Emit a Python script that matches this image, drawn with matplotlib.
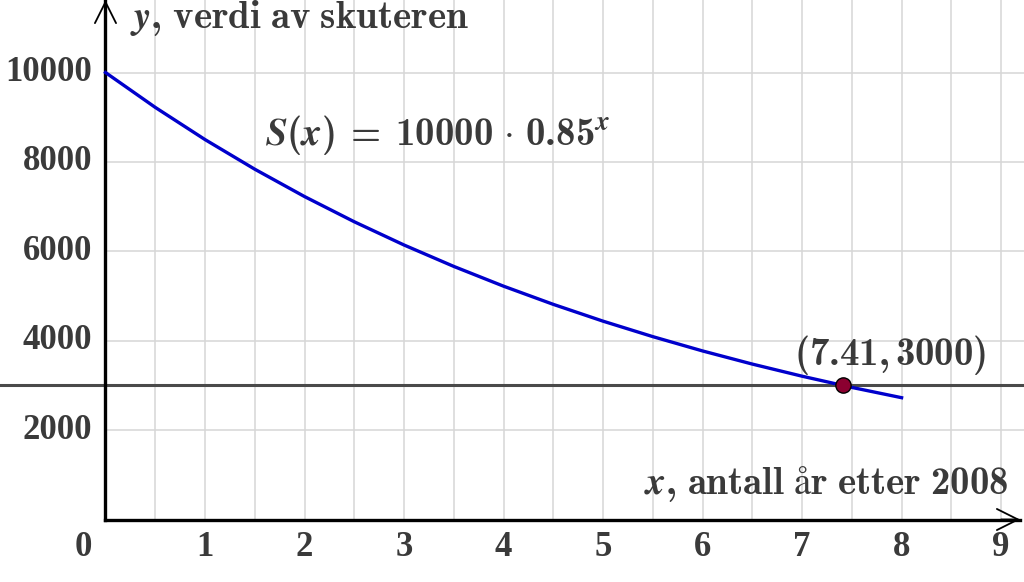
import matplotlib
matplotlib.use("Agg")
import matplotlib.pyplot as plt

# verdi av skuteren, lest av grafen (hver halve år)
years = [0, 0.5, 1, 1.5, 2, 2.5, 3, 3.5, 4, 4.5, 5, 5.5, 6, 6.5, 7, 7.5, 8]
values = [10000, 9220, 8500, 7837, 7225, 6661, 6141, 5662, 5220,
          4813, 4437, 4091, 3771, 3477, 3206, 2955, 2725]

level = 3000
point_x = 7.41
point_y = 3000

x_ticks = [1, 2, 3, 4, 5, 6, 7, 8, 9]
y_ticks = [2000, 4000, 6000, 8000, 10000]
x_grid = [0.5 * i for i in range(1, 19)]
y_grid = [2000, 4000, 6000, 8000, 10000]

# CM-aktig fet skrift i matteteksten
plt.rcParams["mathtext.fontset"] = "custom"
plt.rcParams["mathtext.rm"] = "cmb10"
plt.rcParams["mathtext.bf"] = "cmb10"
plt.rcParams["mathtext.it"] = "STIXGeneral:italic:bold"

TXT = "#3a3a3a"
tick_font = dict(family="Liberation Serif", weight="bold", fontsize=25, color=TXT)

fig = plt.figure(figsize=(10.24, 5.82), dpi=100)
ax = fig.add_axes([0, 0, 1, 1])
xmin, xmax = -1.06, 9.23
ymin, ymax = -1398, 11622
ax.set_xlim(xmin, xmax)
ax.set_ylim(ymin, ymax)
ax.axis("off")

# rutenett bare i første kvadrant
ax.vlines(x_grid, 0, ymax, color="#d6d6d6", lw=1.1, zorder=1)
ax.hlines(y_grid, 0, xmax, color="#d6d6d6", lw=1.1, zorder=1)

# linja y = 3000
ax.axhline(level, color="#4a4a4a", lw=2.2, zorder=2)

# akser med piler
ax.plot([0, 9.19], [0, 0], color="black", lw=2.4, zorder=3, solid_capstyle="projecting")
ax.plot([0, 0], [0, 11600], color="black", lw=2.4, zorder=3, solid_capstyle="projecting")
ax.annotate("", xy=(9.19, 0), xytext=(9.0, 0),
            arrowprops=dict(arrowstyle="->", lw=1.3, color="black",
                            mutation_scale=38, shrinkA=0, shrinkB=0), zorder=3)
ax.annotate("", xy=(0, 11622), xytext=(0, 11000),
            arrowprops=dict(arrowstyle="->", lw=1.3, color="black",
                            mutation_scale=38, shrinkA=0, shrinkB=0), zorder=3)

# grafen
ax.plot(years, values, color="#0000cc", lw=2.4, zorder=4)
ax.plot(point_x, point_y, "o", markersize=11, markerfacecolor="#8b0030",
        markeredgecolor="black", markeredgewidth=1, zorder=5)

# tall på aksene
for t in x_ticks:
    ax.text(t, -637, str(t), ha="center", va="center", **tick_font)
ax.text(-0.226, -637, "0", ha="center", va="center", **tick_font)
for t in y_ticks:
    ax.text(-0.136, t, str(t), ha="right", va="center", **tick_font)

# tekster
ax.text(0.25, 11220, r"$y\mathrm{,\!\ verdi\ av\ skuteren}$",
        ha="left", va="center", fontsize=28, color=TXT)
ax.text(9.07, 790, r"$x\mathrm{,\!\ antall\ år\ etter\ 2008}$",
        ha="right", va="center", fontsize=28, color=TXT)
ax.text(1.60, 8600, r"$S(x)\;=\;10000\,\cdot\,0.85^{x}$",
        ha="left", va="center", fontsize=28, color=TXT)
ax.text(7.88, 3680, r"$(7.41,3000)$",
        ha="center", va="center", fontsize=28, color=TXT)

fig.savefig("out.png", dpi=100)
